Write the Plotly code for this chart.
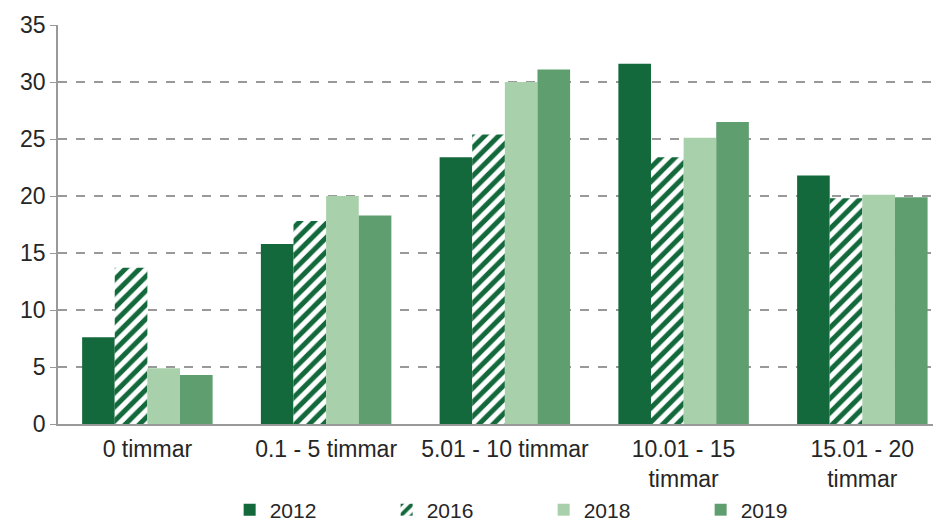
import plotly.graph_objects as go

categories = ["0 timmar", "0.1 - 5 timmar", "5.01 - 10 timmar", "10.01 - 15<br>timmar", "15.01 - 20<br>timmar"]
v2012 = [7.6, 15.8, 23.4, 31.6, 21.8]
v2016 = [13.7, 17.8, 25.4, 23.4, 19.8]
v2018 = [4.9, 20.0, 30.0, 25.1, 20.1]
v2019 = [4.3, 18.3, 31.1, 26.5, 19.9]

dark = "#13693C"
fig = go.Figure()
fig.add_bar(name="2012", x=categories, y=v2012, marker=dict(color=dark, line=dict(width=0)))
fig.add_bar(name="2016", x=categories, y=v2016,
            marker=dict(color="white", line=dict(width=0),
                        pattern=dict(shape="/", fgcolor=dark, bgcolor="white", fgopacity=1,
                                     size=10, solidity=0.5)))
fig.add_bar(name="2018", x=categories, y=v2018, marker=dict(color="#A8D0AB", line=dict(width=0)))
fig.add_bar(name="2019", x=categories, y=v2019, marker=dict(color="#5F9E6E", line=dict(width=0)))

# page body has an 8px default margin, so the figure is sized/offset to compensate
fig.update_layout(
    width=933, height=516,
    margin=dict(l=50, r=0, t=17, b=100, autoexpand=False),
    paper_bgcolor="white", plot_bgcolor="white",
    barmode="group", bargap=0.27, bargroupgap=0,
    font=dict(family="Liberation Sans, Arial, sans-serif", size=23, color="#262626"),
    showlegend=True,
    legend=dict(orientation="h", x=0.55, xanchor="center", yref="container", y=0.0271, yanchor="middle",
                font=dict(size=21), itemwidth=30, tracegroupgap=0, entrywidth=112),
)
fig.update_yaxes(range=[0, 35], dtick=5, showgrid=True, gridcolor="#999999", griddash="dash", gridwidth=1.5,
                 showline=True, linecolor="#999999", linewidth=1.5, ticks="outside", ticklen=6,
                 tickcolor="#999999", zeroline=False, automargin=False, tickfont=dict(size=23))
fig.update_xaxes(range=[-0.5, 4.44], showline=True, linecolor="#999999", linewidth=1.5, ticks="",
                 tickfont=dict(size=23), automargin=False, ticklabelstandoff=4)

fig.write_html("out.html")
